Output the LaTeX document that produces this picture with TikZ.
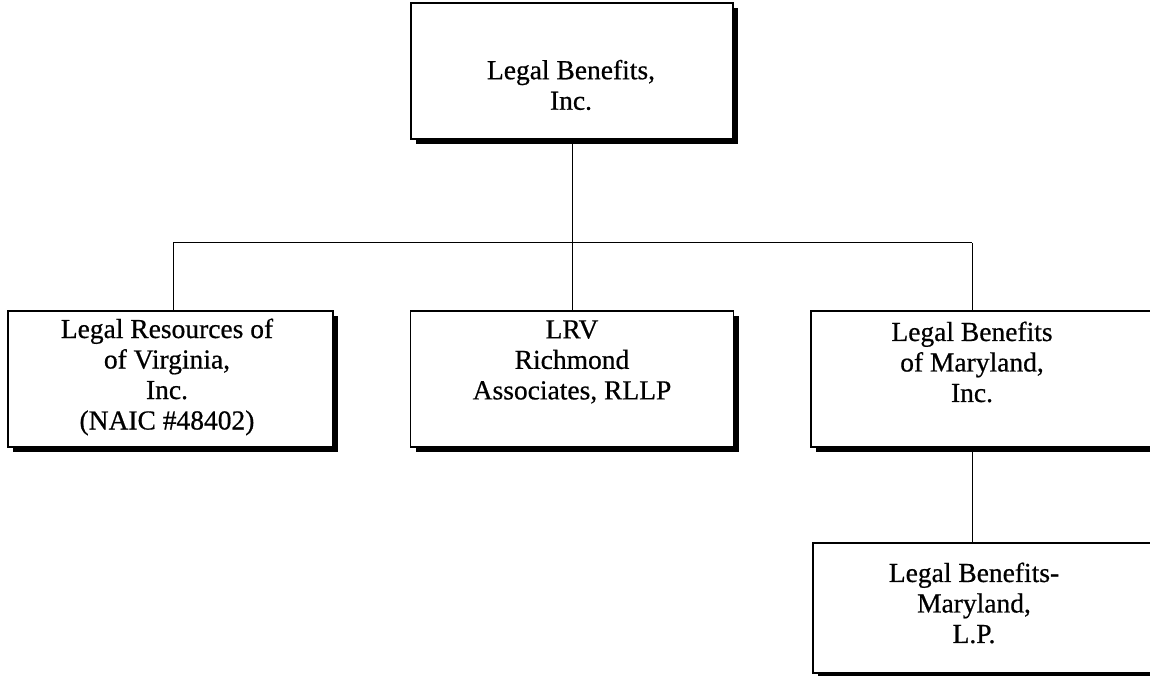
\documentclass[tikz,border=0pt]{standalone}
\usepackage{fontspec}
\setmainfont{Liberation Serif}
\newfontfamily\orgfont{Liberation Serif}[FakeBold=0.6]
\usetikzlibrary{shadows}
\begin{document}
\begin{tikzpicture}[x=1pt,y=-1pt,
  orgbox/.style={draw=black, fill=white, line width=1.3pt, rectangle, inner sep=0pt,
    drop shadow={shadow xshift=5pt, shadow yshift=-5pt, fill=black, opacity=1}},
  label/.style={align=center, inner sep=0pt, font=\orgfont\fontsize{27.5}{30.5}\selectfont},
  conn/.style={draw=black, line width=1pt}]
\clip (0,0) rectangle (1150,676);
\useasboundingbox (0,0) rectangle (1150,676);
% boxes
\node[orgbox, minimum width=322pt, minimum height=136pt] (top) at (572,71) {};
\node[orgbox, minimum width=325pt, minimum height=136pt] (left) at (170.5,379) {};
\node[orgbox, minimum width=323pt, minimum height=136pt] (mid) at (572,379) {};
\node[orgbox, minimum width=360pt, minimum height=136pt] (right) at (991,379) {};
\node[orgbox, minimum width=360pt, minimum height=130pt] (sub) at (993,608) {};
% texts
\node[label] (toptext) at (571,85) {Legal Benefits,\\Inc.};
\node[label] (lefttext) at (167,377) {Legal Resources of\\of Virginia,\\Inc.\\(NAIC \#48402)};
\node[label] (midtext) at (572,362) {LRV\\Richmond\\Associates, RLLP};
\node[label] (righttext) at (972,362) {Legal Benefits\\of Maryland,\\Inc.};
\node[label] (subtext) at (974,603) {Legal Benefits-\\Maryland,\\L.P.};
% connectors
\coordinate (bl) at (173,243);
\coordinate (br) at (972,243);
\draw[conn] (bl) -- (br);
\draw[conn] (top.south) -- (mid.north);
\draw[conn] (bl) -- (bl |- left.north);
\draw[conn] (br) -- (br |- right.north);
\draw[conn] (br |- right.south) -- (br |- sub.north);
\end{tikzpicture}
\end{document}
